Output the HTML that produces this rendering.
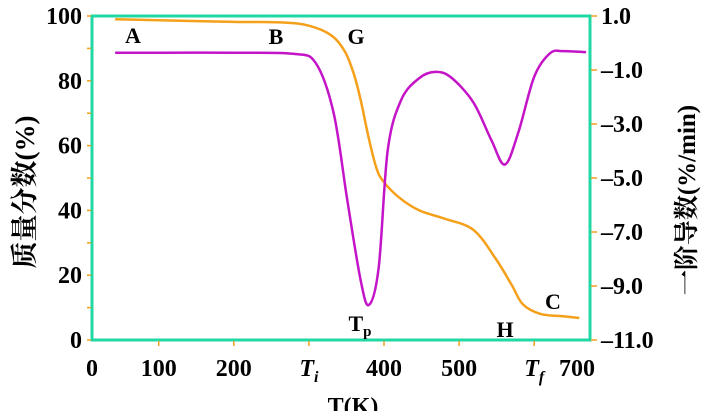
<!DOCTYPE html>
<html><head><meta charset="utf-8"><style>
body{margin:0;background:#fff;}
svg{display:block;font-family:"Liberation Serif","Noto Serif CJK SC",serif;font-weight:bold;}
</style></head><body>
<svg id="c" width="707" height="411" viewBox="0 0 707 411"></svg>
<script>
const tgT=[42,100,200,265,300,330,348,360,369,380,390,399,420,447,480,519,549,570,585,609,640,660];
const tgV=[99,98.7,98.2,98,97,94,89,82,74,62,53,49,44,40,37.5,34,25,17,11,8,7.3,6.8];
const dtgT=[42,100,200,279,309,333,351,369,380,393,405,423,447,468,489,519,543,561,579,600,621,639,669];
const dtgV=[-0.36,-0.36,-0.36,-0.4,-0.74,-2.6,-5.8,-8.8,-9.7,-8.3,-3.96,-2.1,-1.3,-1.07,-1.27,-2.2,-3.6,-4.5,-3.3,-1.25,-0.38,-0.3,-0.34];
const leftTicks=[0,20,40,60,80,100];
const rightTicks=[1.0,-1.0,-3.0,-5.0,-7.0,-9.0,-11.0];
const xTickLabels=["0","100","200","Ti","400","500","Tf","700"];
const NS="http://www.w3.org/2000/svg";
const svg=document.getElementById('c');
const L=92,R=590,T=16,B=340;
const xs=t=>158.7+(t-100)*0.751;
const yl=v=>B-v*(B-T)/100;
const yr=v=>T+(1-v)*(B-T)/12;
function el(tag,attrs,parent){const e=document.createElementNS(NS,tag);for(const k in attrs)e.setAttribute(k,attrs[k]);(parent||svg).appendChild(e);return e;}
function smooth(pts){let d=`M${pts[0][0]},${pts[0][1]}`;for(let i=0;i<pts.length-1;i++){const p0=pts[Math.max(i-1,0)],p1=pts[i],p2=pts[i+1],p3=pts[Math.min(i+2,pts.length-1)];const c1=[p1[0]+(p2[0]-p0[0])/6,p1[1]+(p2[1]-p0[1])/6],c2=[p2[0]-(p3[0]-p1[0])/6,p2[1]-(p3[1]-p1[1])/6];d+=`C${c1[0]},${c1[1]} ${c2[0]},${c2[1]} ${p2[0]},${p2[1]}`;}return d;}
let f=el('rect',{x:L,y:T,width:R-L,height:B-T,fill:'none',stroke:'#1fd8a4','stroke-width':3});

for(let v=0;v<=100;v+=10){let t=el('line',{x1:L-5,x2:L-1,y1:yl(v),y2:yl(v),stroke:'#f0a020','stroke-width':1.5});}
leftTicks.forEach(v=>{let t=el('text',{x:L-10,y:yl(v)+8,'text-anchor':'end','font-size':24});t.textContent=v;});
rightTicks.forEach(v=>{let l=el('line',{x1:R+1,x2:R+7,y1:yr(v),y2:yr(v),stroke:'#f0a020','stroke-width':1.5});
let t=el('text',{x:R+11,y:yr(v)+8,'font-size':24});t.textContent=(v<0?'\u2013':'')+Math.abs(v).toFixed(1);});
const xTickPos=[0,100,200,300,400,500,600,700];
xTickPos.forEach((v,i)=>{let x=v===0?L:xs(v);if(v>0&&v<700){let l=el('line',{x1:x,x2:x,y1:B+1,y2:B+6,stroke:'#f0a020','stroke-width':1.5});}
let lx=v===700?577:x;let lab=xTickLabels[i];let t=el('text',{x:lx,y:376,'text-anchor':'middle','font-size':24});
if(lab==='Ti'||lab==='Tf'){t.setAttribute('font-style','italic');t.textContent=lab[0];let s=el('tspan',{'font-size':16,dy:6},t);s.textContent=lab[1];}else t.textContent=lab;
});
let p1=el('path',{d:smooth(tgT.map((t,i)=>[xs(t),yl(tgV[i])])),fill:'none',stroke:'#f5a01a','stroke-width':2.5});

let p2=el('path',{d:smooth(dtgT.map((t,i)=>[xs(t),yr(dtgV[i])])),fill:'none',stroke:'#c414c8','stroke-width':2.5});

[['A',133,43],['B',276,44],['G',356,44],['H',505,337],['C',553,309]].forEach(a=>{let t=el('text',{x:a[1],y:a[2],'text-anchor':'middle','font-size':22});t.textContent=a[0];});
let tp=el('text',{x:360,y:331,'text-anchor':'middle','font-size':22});tp.textContent='T';let ts=el('tspan',{'font-size':15,dy:5},tp);ts.textContent='p';

let xt=el('text',{x:353,y:414,'text-anchor':'middle','font-size':24});xt.textContent='T(K)';
let lt=el('text',{x:0,y:0,'text-anchor':'middle','font-size':27,transform:'translate(34,192) rotate(-90)'});lt.textContent='质量分数(%)';
let rt=el('text',{x:0,y:0,'text-anchor':'middle','font-size':25,transform:'translate(695,200) rotate(-90)'});rt.textContent='一阶导数(%/min)';
</script>
</body></html>
